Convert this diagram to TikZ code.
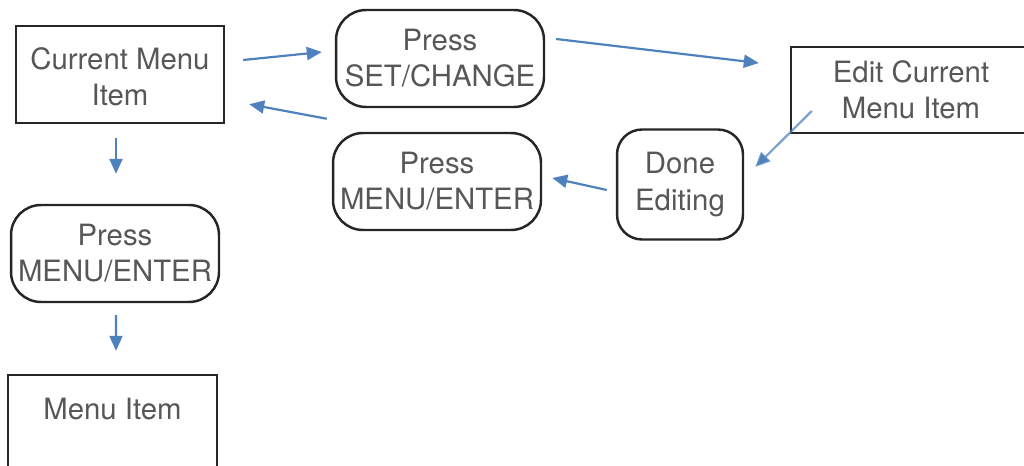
\documentclass[tikz,border=0pt]{standalone}
\usepackage{fontspec}
\setmainfont{TeX Gyre Heros}
\usetikzlibrary{calc,arrows.meta}
\definecolor{flowblue}{HTML}{4F81BD}
\definecolor{textgrey}{HTML}{575757}
\tikzset{
	sqbox/.style={draw=black!85, line width=1.4pt, text=textgrey, align=center,
		font=\fontsize{16.7}{20.5}\selectfont, inner sep=0pt,
		minimum width=4.16cm, minimum height=1.94cm},
	rndbox/.style={sqbox, rounded corners=0.6cm},
	flow/.style={draw=flowblue, line width=1.25pt, -{Triangle[length=0.3cm,width=0.26cm]}},
}

\begin{document}
\begin{tikzpicture}[x=0.02cm, y=-0.02cm]
			%%%%% START %%%%%
			\clip (0, 0) rectangle (1024, 466);
			
			% left column
			\node[sqbox] (cur) at (120, 74.5) {\\[-0.2cm]Current Menu\\Item};
			\node[rndbox] (press) at (115, 253.5) {Press\\MENU/ENTER};
			\node[sqbox, minimum width=4.18cm, minimum height=2.2cm] (item) at (112.5, 430) {\strut Menu Item\\\strut};
			
			% middle column
			\node[rndbox] (set) at (440, 58.5) {Press\\SET/CHANGE};
			\node[rndbox] (menu) at (437, 181.5) {Press\\MENU/ENTER};
			
			% right side
			\node[sqbox, minimum width=4.8cm, minimum height=1.72cm] (edit) at (911, 90) {Edit Current\\Menu Item};
			\node[rndbox, rounded corners=0.5cm, minimum width=2.52cm, minimum height=2.2cm] (done) at (680, 184.5) {Done\\Editing};
			
			% arrows
			\draw[flow] ($(cur.east)+(18,-14.5)$) -- ($(set.west)+(-13,-6.5)$);
			\draw[flow] ($(set.east)+(11,-19.5)$) -- ($(edit.west)+(-31,-27)$);
			\draw[flow, draw opacity=0.75] ($(edit.west)+(22,21)$) -- ($(done.east)+(11,-17.5)$);
			\draw[flow] ($(done.west)+(-9,5.5)$) -- ($(menu.east)+(10,-3.5)$);
			\draw[flow] ($(menu.north west)+(-5,-13)$) -- ($(cur.south east)+(24,-20)$);
			
			\draw[flow] ($(cur.south)+(-4,14)$) -- ($(press.north)+(1,-30)$);
			\draw[flow] ($(press.south)+(1,12)$) -- ($(item.north)+(3.5,-23)$);
			
			%%%%% END %%%%%
		\end{tikzpicture}
\end{document}
